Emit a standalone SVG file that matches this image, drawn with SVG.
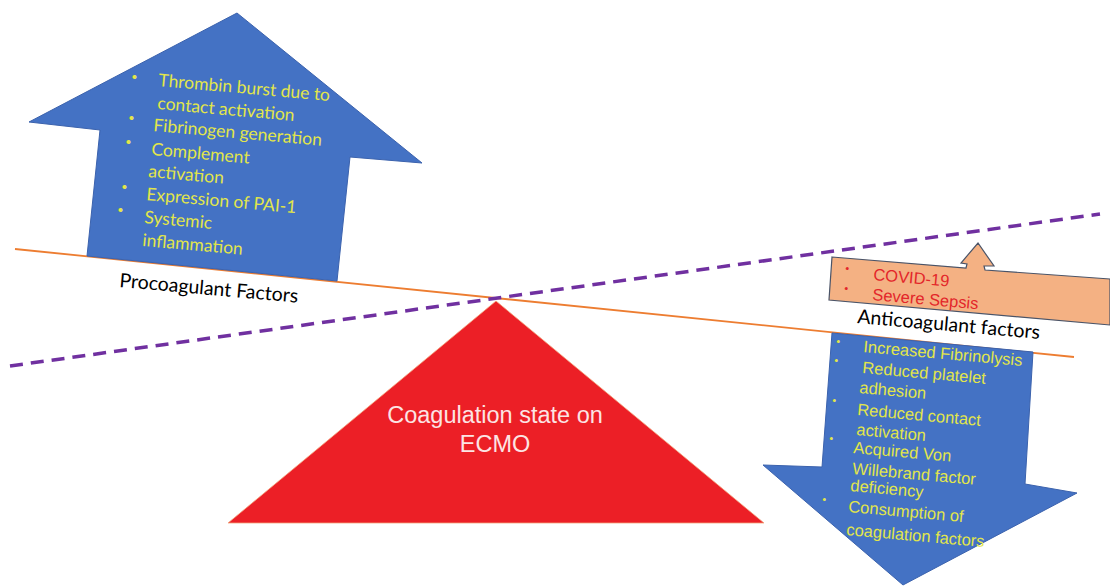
<svg xmlns="http://www.w3.org/2000/svg" width="1110" height="586" viewBox="0 0 1110 586">
<style>
.blue{fill:#4472c4;stroke:#3b62ad;stroke-width:1}
.yl{fill:#e2e64a;font-family:Lato,"Liberation Sans",sans-serif;font-size:17.5px}
.yr{fill:#e2e64a;font-family:"Liberation Sans",Arial,sans-serif;font-size:16.5px}
.lbl{fill:#000;font-family:Lato,"Liberation Sans",sans-serif;font-size:19.5px}
.red{fill:#e3262a;font-family:"Liberation Sans",Arial,sans-serif;font-size:16.5px}
.bl{font-size:11px}
.tri{fill:#fce4e4;font-family:"Liberation Sans",Arial,sans-serif;font-size:23.5px}
</style>
<rect width="1110" height="586" fill="#fff"/>
<g id="fulcrum">
<polygon points="496,301 228,523 764,523" fill="#ec1f26" stroke="#f3a47c" stroke-width="0.8"/>
<text class="tri" x="495" y="423" text-anchor="middle">Coagulation state on</text>
<text class="tri" x="495" y="452" text-anchor="middle">ECMO</text>
</g>
<g id="connectors">
<line x1="15" y1="249" x2="1074" y2="357" stroke="#ed7d31" stroke-width="1.8"/>
<line x1="10" y1="366" x2="1100" y2="214" stroke="#7030a0" stroke-width="3.5" stroke-dasharray="13 8"/>
</g>
<g id="procoagulant">
<polygon class="blue" points="237,13 422,163 350,157 337,281 87,256 100,130 29,122"/>
<g class="yl">
<text class="bl" x="131" y="80" transform="rotate(5 131 80)">•</text>
<text x="158" y="86" transform="rotate(5 158 86)">Thrombin burst due to</text>
<text x="157" y="109" transform="rotate(5 157 109)">contact activation</text>
<text class="bl" x="128" y="121" transform="rotate(5 128 121)">•</text>
<text x="153" y="131" transform="rotate(5 153 131)">Fibrinogen generation</text>
<text class="bl" x="125" y="145" transform="rotate(5 125 145)">•</text>
<text x="151" y="155" transform="rotate(5 151 155)">Complement</text>
<text x="148" y="177" transform="rotate(5 148 177)">activation</text>
<text class="bl" x="121" y="190" transform="rotate(5 121 190)">•</text>
<text x="146" y="200" transform="rotate(5 146 200)">Expression  of PAI-1</text>
<text class="bl" x="117" y="213" transform="rotate(5 117 213)">•</text>
<text x="144" y="223" transform="rotate(5 144 223)">Systemic</text>
<text x="142" y="246" transform="rotate(5 142 246)">inflammation</text>
</g>
<text class="lbl" x="119" y="287" transform="rotate(5 119 287)">Procoagulant Factors</text>
</g>
<g id="risk">
<polygon points="832,257 966,268 967,264 961,263 978,243 994,266 984,266 985,270 1110,279 1110,325 829,300" fill="#f4b183" stroke="#4a5468" stroke-width="1.2"/>
<text class="red bl" x="845" y="272" transform="rotate(5 845 272)">•</text>
<text class="red" x="873" y="280" transform="rotate(5 873 280)">COVID-19</text>
<text class="red bl" x="844" y="292" transform="rotate(5 844 292)">•</text>
<text class="red" x="872" y="300" transform="rotate(5 872 300)">Severe Sepsis</text>
</g>
<text id="anticoag-label" class="lbl" x="857" y="323" transform="rotate(5 857 323)">Anticoagulant factors</text>
<g id="anticoagulant">
<polygon class="blue" points="832,333 1033,352 1025,484 1077,493 903,585 763,465 822,467"/>
<g class="yr">
<text class="bl" x="836" y="345" transform="rotate(5 836 345)">•</text>
<text x="863" y="352" transform="rotate(5 863 352)">Increased Fibrinolysis</text>
<text class="bl" x="834" y="364" transform="rotate(5 834 364)">•</text>
<text x="862" y="373" transform="rotate(5 862 373)">Reduced platelet</text>
<text x="859" y="393" transform="rotate(5 859 393)">adhesion</text>
<text class="bl" x="832" y="404" transform="rotate(5 832 404)">•</text>
<text x="857" y="415" transform="rotate(5 857 415)">Reduced contact</text>
<text x="856" y="435" transform="rotate(5 856 435)">activation</text>
<text class="bl" x="829" y="442" transform="rotate(5 829 442)">•</text>
<text x="853" y="453" transform="rotate(5 853 453)">Acquired Von</text>
<text x="852" y="474" transform="rotate(5 852 474)">Willebrand factor</text>
<text x="850" y="491" transform="rotate(5 850 491)">deficiency</text>
<text class="bl" x="822" y="503" transform="rotate(5 822 503)">•</text>
<text x="848" y="512" transform="rotate(5 848 512)">Consumption of</text>
<text x="846" y="535" transform="rotate(5 846 535)">coagulation factors</text>
</g>
</g>
</svg>
